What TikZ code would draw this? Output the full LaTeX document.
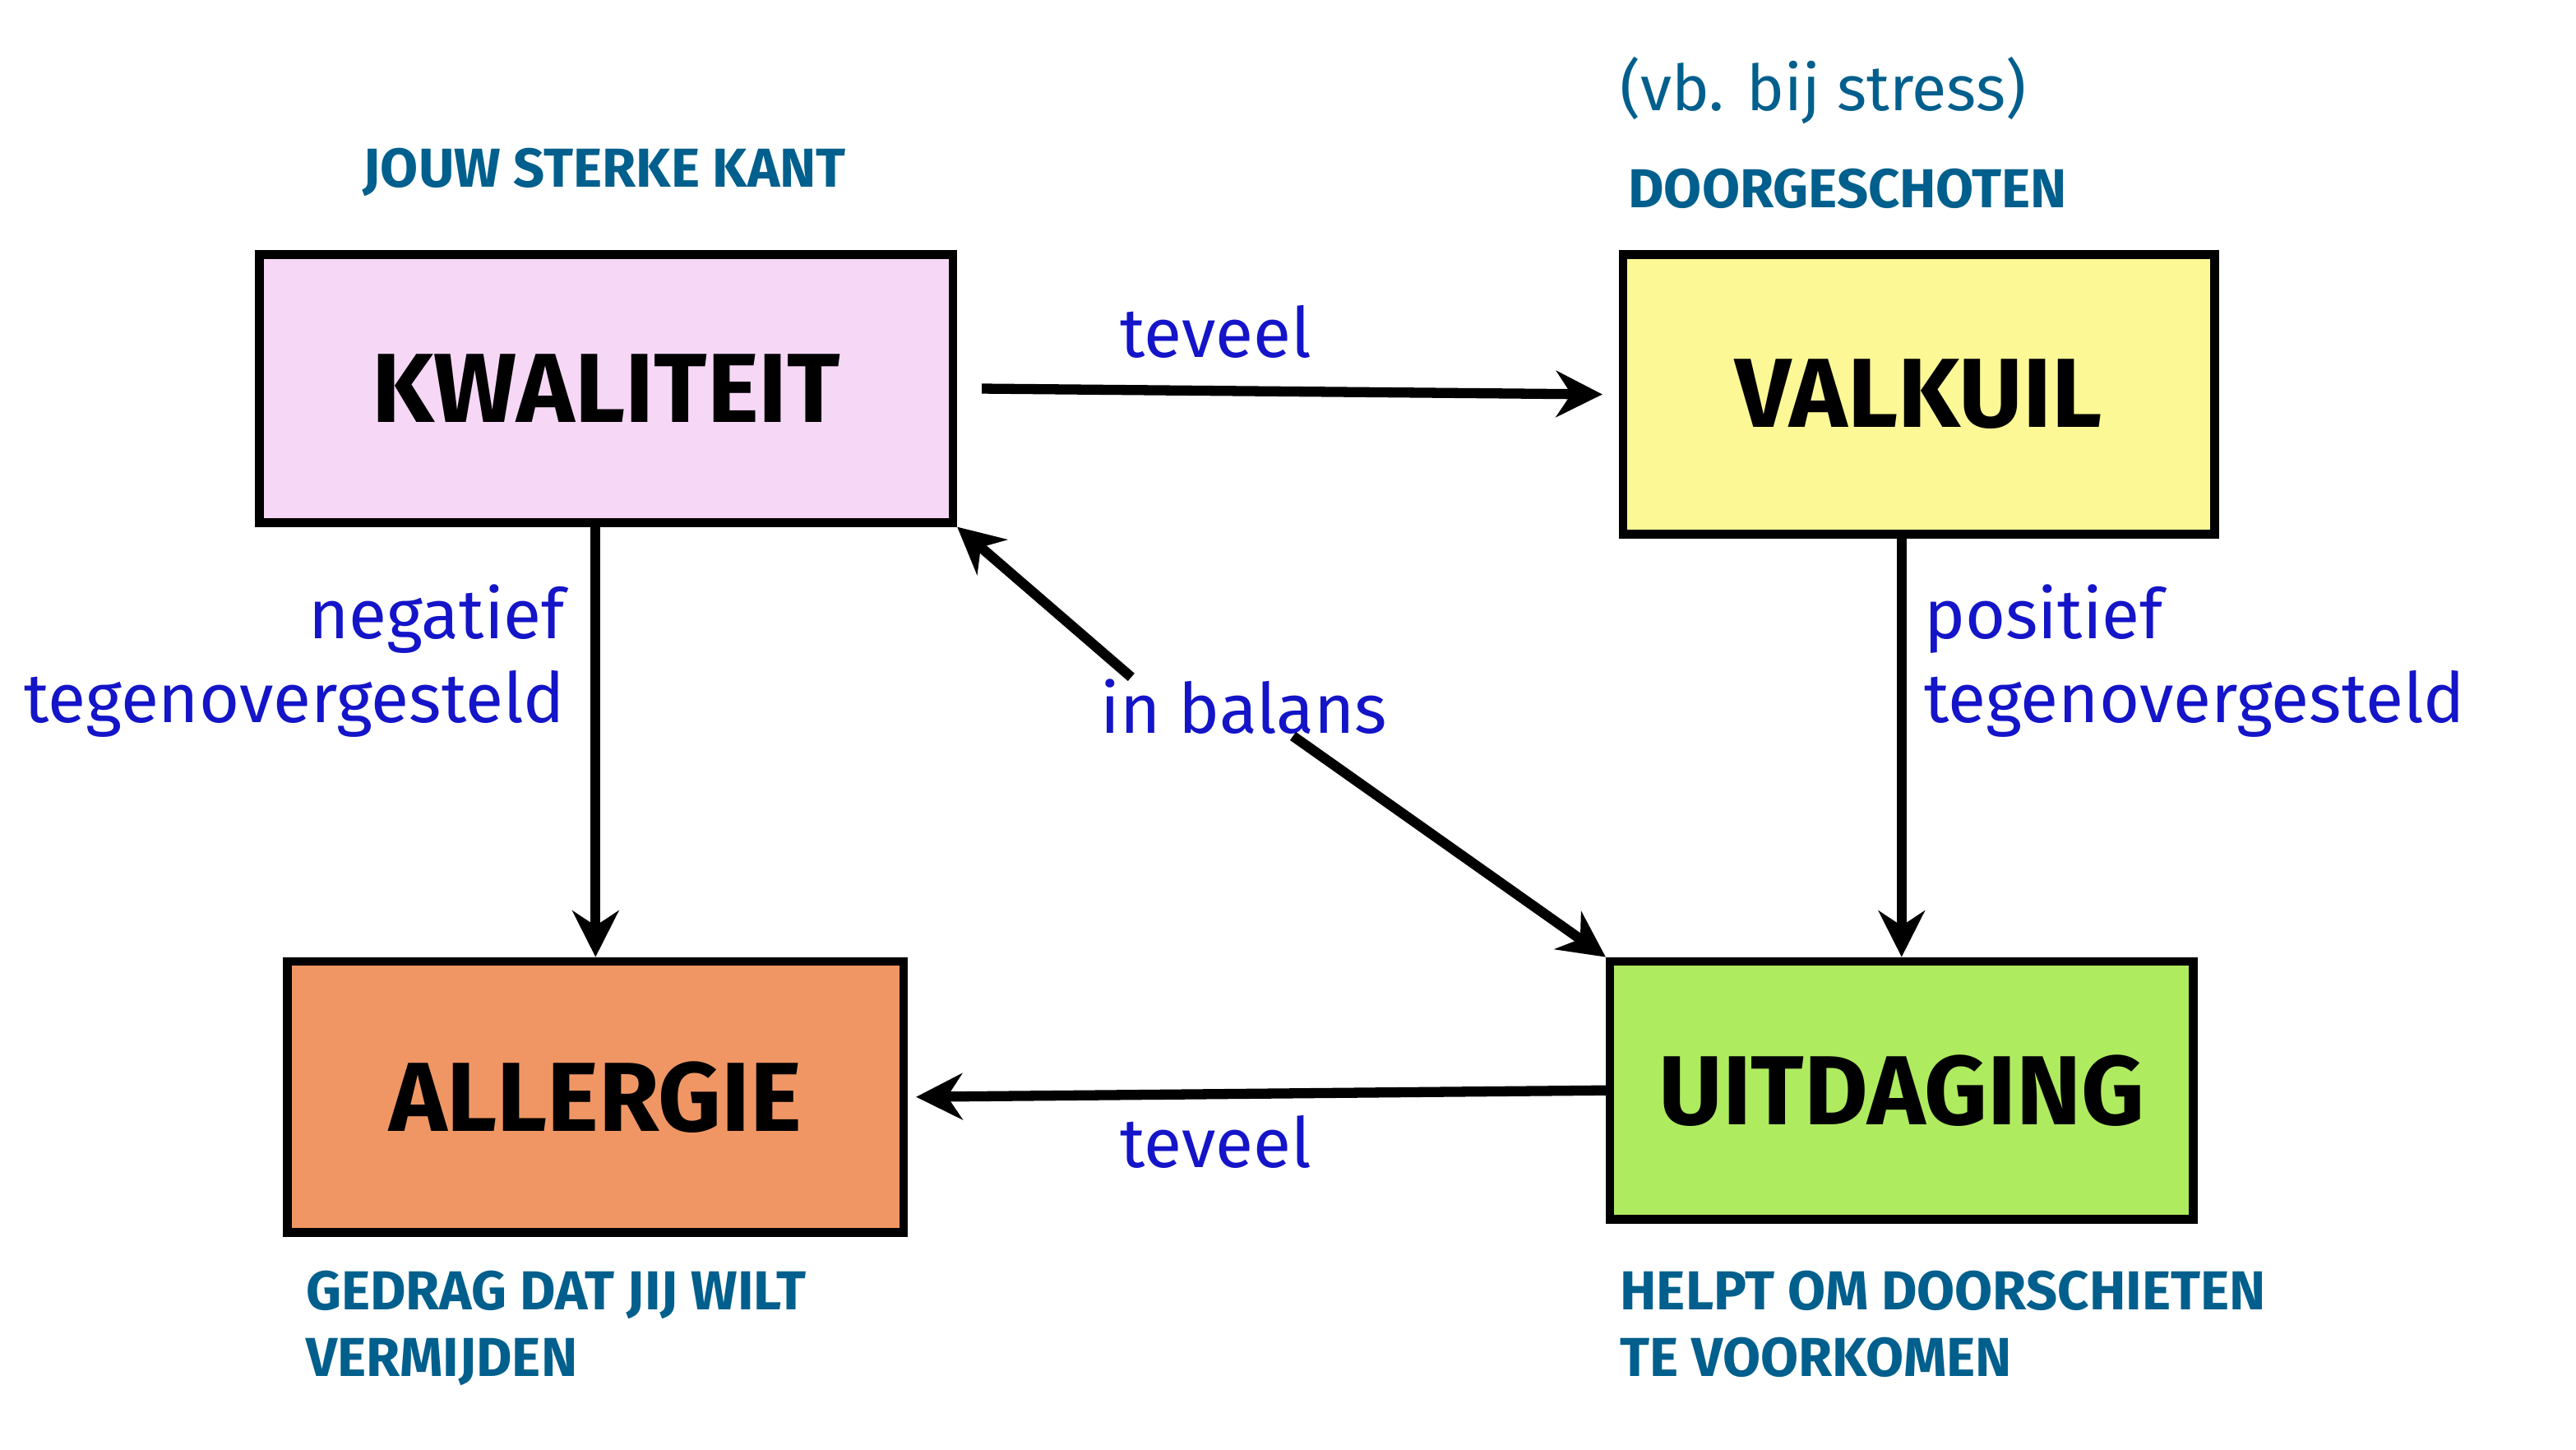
\documentclass[tikz,border=0pt]{standalone}
\usepackage{fontspec}
\setmainfont{Fira Sans}
\usetikzlibrary{arrows.meta,calc}
\definecolor{hand}{RGB}{20,20,200}
\definecolor{teal2}{RGB}{0,95,140}
\definecolor{pinkf}{RGB}{246,215,246}
\definecolor{yelf}{RGB}{252,248,150}
\definecolor{oranf}{RGB}{240,150,100}
\definecolor{greenf}{RGB}{175,235,95}
\tikzset{
 box/.style={draw=black,line width=3pt,minimum width=#1,font=\fontsize{34}{40}\selectfont\bfseries},
 lab/.style={text=hand,font=\fontsize{24}{29}\selectfont,align=center},
 captxt/.style={text=teal2,font=\fontsize{19}{23}\selectfont\bfseries,align=left},
 arr/.style={line width=3.5pt,-{Stealth[length=16pt,width=16pt]}}
}
\begin{document}
\begin{tikzpicture}
\useasboundingbox[fill=white] (0,0) rectangle (31.36,17.64);
\node[box=8.44cm,minimum height=3.26cm,fill=pinkf] (K) at (7.38,12.91) {KWALITEIT};
\node[box=7.2cm,minimum height=3.4cm,fill=yelf] (V) at (23.36,12.84) {VALKUIL};
\node[box=7.5cm,minimum height=3.3cm,fill=oranf] (A) at (7.25,4.29) {ALLERGIE};
\node[box=7.1cm,minimum height=3.14cm,fill=greenf] (U) at (23.15,4.37) {UITDAGING};
\node[captxt] (t1) at (7.36,15.54) {JOUW STERKE KANT};
\node[text=teal2,font=\fontsize{22}{26}\selectfont,anchor=west] (t2) at (19.6,16.54) {(vb. bij stress)};
\node[captxt,anchor=west] (t3) at (19.7,15.34) {DOORGESCHOTEN};
\node[captxt,anchor=north west] (t4) at (3.6,2.3) {GEDRAG DAT JIJ WILT\\VERMIJDEN};
\node[captxt,anchor=north west] (t5) at (19.6,2.3) {HELPT OM DOORSCHIETEN\\TE VOORKOMEN};
\draw[arr] ($(K.east)+(0.3,0)$) -- ($(V.west)+(-0.2,0)$);
\node[lab] (l1) at (14.8,13.6) {teveel};
\draw[arr] (K.south -| A.north) -- (A.north);
\node[lab,align=right,anchor=east] (l2) at (7.0,9.6) {negatief\\tegenovergesteld};
\draw[arr] (V.south -| U.north) -- (U.north);
\node[lab,align=left,anchor=west] (l3) at (23.3,9.6) {positief\\tegenovergesteld};
\draw[arr] (U.west) -- ($(A.east)+(0.1,0)$);
\node[lab] (l4) at (14.8,3.74) {teveel};
\node[lab] (B) at (15.14,9.04) {in balans};
\coordinate (b1) at ($(B.north west)+(0.5,-0.1)$);
\coordinate (b2) at ($(B.south)+(0.6,0.1)$);
\draw[arr] (b1) -- (K.south east);
\draw[arr] (b2) -- (U.north west);
\end{tikzpicture}
\end{document}
